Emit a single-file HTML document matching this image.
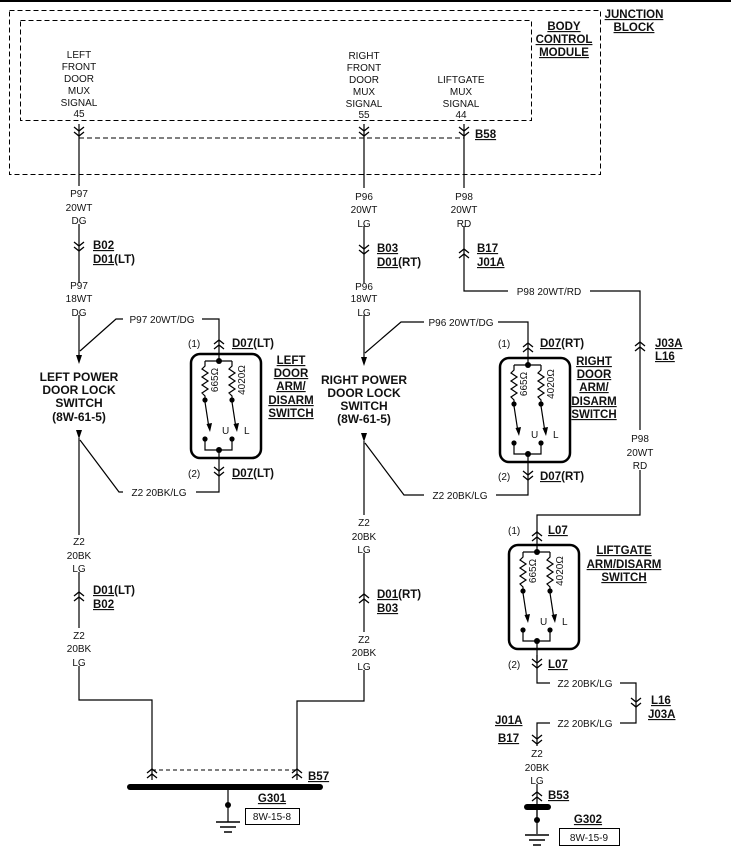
<!DOCTYPE html>
<html><head><meta charset="utf-8"><style>
html,body{margin:0;padding:0;background:#fff}
svg{display:block}
text{font-family:"Liberation Sans",sans-serif;font-size:10px;fill:#111}
.c{text-anchor:middle}
.b{font-weight:bold;font-size:11.5px}
.u{text-decoration:underline}
</style></head><body>
<svg width="731" height="859" viewBox="0 0 731 859" xmlns="http://www.w3.org/2000/svg">
<defs>
<g id="dn" fill="none" stroke="#000" stroke-width="1.3"><path d="M-5,-5 L0,-1 L5,-5 M-5,0 L0,4 L5,0"/></g>
<g id="up" fill="none" stroke="#000" stroke-width="1.3"><path d="M-5,5 L0,1 L5,5 M-5,0 L0,-4 L5,0"/></g>
<g id="sw">
<rect x="191" y="354" width="70" height="104" rx="9" fill="none" stroke="#000" stroke-width="2.5"/>
<g fill="none" stroke="#000" stroke-width="1.2">
<path d="M219,340 V361 M205,361 H232 M205,361 V366 l-3,3 l6,4 l-6,4 l6,4 l-6,4 l6,4 l-6,4 l3,3 V400 M232,361 V366 l-3,3 l6,4 l-6,4 l6,4 l-6,4 l6,4 l-6,4 l3,3 V400"/>
<path d="M205,402 L209,428 M232,402 L236,428"/>
<path d="M205,439 V450 H232 V439 M219,450 V470"/>
</g>
<path d="M206.5,424 L212,423 L210,432 Z M233.5,424 L239,423 L237,432 Z" fill="#000"/>
<g fill="#000"><circle cx="219" cy="361" r="3"/><circle cx="205" cy="400" r="2.6"/><circle cx="232" cy="400" r="2.6"/><circle cx="205" cy="439" r="2.6"/><circle cx="232" cy="439" r="2.6"/><circle cx="219" cy="450" r="3"/></g>
<text x="218" y="380" transform="rotate(-90 218 380)" class="c" style="font-size:10px">665Ω</text>
<text x="245" y="380" transform="rotate(-90 245 380)" class="c" style="font-size:10px">4020Ω</text>
<text x="222" y="434">U</text><text x="244" y="434">L</text>
</g>
</defs>
<rect x="0" y="0" width="731" height="2" fill="#000"/>
<rect x="9.5" y="10.5" width="591" height="164" fill="none" stroke="#000" stroke-dasharray="5,3"/>
<rect x="20.5" y="20.5" width="511" height="100" fill="none" stroke="#000" stroke-dasharray="5,3"/>
<line x1="79" y1="138" x2="464" y2="138" stroke="#000" stroke-dasharray="5,3"/>
<g class="b"><text x="634" y="18" class="c b u">JUNCTION</text><text x="634" y="31" class="c b u">BLOCK</text>
<text x="564" y="30" class="c b u">BODY</text><text x="564" y="43" class="c b u">CONTROL</text><text x="564" y="56" class="c b u">MODULE</text></g>
<g class="c">
<text x="79" y="58" class="c">LEFT</text><text x="79" y="70" class="c">FRONT</text><text x="79" y="82" class="c">DOOR</text><text x="79" y="94" class="c">MUX</text><text x="79" y="106" class="c">SIGNAL</text><text x="79" y="117" class="c">45</text>
<text x="364" y="59" class="c">RIGHT</text><text x="364" y="71" class="c">FRONT</text><text x="364" y="83" class="c">DOOR</text><text x="364" y="95" class="c">MUX</text><text x="364" y="107" class="c">SIGNAL</text><text x="364" y="118" class="c">55</text>
<text x="461" y="83" class="c">LIFTGATE</text><text x="461" y="95" class="c">MUX</text><text x="461" y="107" class="c">SIGNAL</text><text x="461" y="118" class="c">44</text>
</g>
<use href="#dn" x="79" y="132"/><use href="#dn" x="364" y="132"/><use href="#dn" x="464" y="132"/>
<text x="475" y="138" class="b u">B58</text>
<g stroke="#000" stroke-width="1.2" fill="none">
<path d="M79,124 V186 M79,224 V283 M79,315 V356 M80,351 L116,319 H123 M202,319 H219 V340"/>
<path d="M79,438 V535 M79,572 V628 M79,666 V700 H152 V780"/>
<path d="M80,440 L119,492 H123 M196,492 H219 V470"/>
<path d="M364,124 V188 M364,226 V283 M364,315 V358 M365,353 L401,322 H424 M498,322 H528 V343"/>
<path d="M364,441 V515 M364,553 V632 M364,670 V701 H297 V780"/>
<path d="M365,443 L404,495 H424 M496,495 H528 V474"/>
<path d="M464,124 V188 M464,226 V291 H508 M590,291 H640 V430 M640,470 V515 H537 V534"/>
<path d="M537,655 V683 H550 M620,683 H636 V723 H620 M550,723 H537 V746 M537,784 V820"/>
<path d="M228,787 V822 M537,808 V834"/>
</g>
<line x1="152" y1="770" x2="297" y2="770" stroke="#000" stroke-dasharray="4,3"/>
<g>
<text x="79" y="197" class="c">P97</text><text x="79" y="211" class="c">20WT</text><text x="79" y="224" class="c">DG</text>
<text x="79" y="289" class="c">P97</text><text x="79" y="302" class="c">18WT</text><text x="79" y="316" class="c">DG</text>
<text x="364" y="200" class="c">P96</text><text x="364" y="213" class="c">20WT</text><text x="364" y="227" class="c">LG</text>
<text x="364" y="290" class="c">P96</text><text x="364" y="302" class="c">18WT</text><text x="364" y="316" class="c">LG</text>
<text x="464" y="200" class="c">P98</text><text x="464" y="213" class="c">20WT</text><text x="464" y="227" class="c">RD</text>
<text x="549" y="295" class="c">P98 20WT/RD</text>
<text x="640" y="442" class="c">P98</text><text x="640" y="456" class="c">20WT</text><text x="640" y="469" class="c">RD</text>
<text x="162" y="323" class="c">P97 20WT/DG</text><text x="461" y="326" class="c">P96 20WT/DG</text>
<text x="159" y="496" class="c">Z2 20BK/LG</text><text x="460" y="499" class="c">Z2 20BK/LG</text>
<text x="79" y="545" class="c">Z2</text><text x="79" y="559" class="c">20BK</text><text x="79" y="572" class="c">LG</text>
<text x="79" y="639" class="c">Z2</text><text x="79" y="652" class="c">20BK</text><text x="79" y="666" class="c">LG</text>
<text x="364" y="526" class="c">Z2</text><text x="364" y="540" class="c">20BK</text><text x="364" y="553" class="c">LG</text>
<text x="364" y="643" class="c">Z2</text><text x="364" y="656" class="c">20BK</text><text x="364" y="670" class="c">LG</text>
<text x="585" y="687" class="c">Z2 20BK/LG</text><text x="585" y="727" class="c">Z2 20BK/LG</text>
<text x="537" y="757" class="c">Z2</text><text x="537" y="771" class="c">20BK</text><text x="537" y="784" class="c">LG</text>
</g>
<use href="#dn" x="79" y="247"/><text x="93" y="249" class="b u">B02</text><text x="93" y="263" class="b"><tspan class="u">D01</tspan>(LT)</text>
<use href="#dn" x="364" y="250"/><text x="377" y="252" class="b u">B03</text><text x="377" y="266" class="b"><tspan class="u">D01</tspan>(RT)</text>
<use href="#up" x="464" y="253"/><text x="477" y="252" class="b u">B17</text><text x="477" y="266" class="b u">J01A</text>
<use href="#up" x="219" y="344"/><text x="188" y="347">(1)</text><text x="232" y="347" class="b"><tspan class="u">D07</tspan>(LT)</text>
<use href="#dn" x="219" y="472"/><text x="188" y="477">(2)</text><text x="232" y="477" class="b"><tspan class="u">D07</tspan>(LT)</text>
<use href="#up" x="528" y="347"/><text x="498" y="347">(1)</text><text x="540" y="347" class="b"><tspan class="u">D07</tspan>(RT)</text>
<use href="#dn" x="528" y="476"/><text x="498" y="480">(2)</text><text x="540" y="480" class="b"><tspan class="u">D07</tspan>(RT)</text>
<use href="#up" x="640" y="346"/><text x="655" y="347" class="b u">J03A</text><text x="655" y="360" class="b u">L16</text>
<use href="#up" x="537" y="536"/><text x="508" y="534">(1)</text><text x="548" y="534" class="b u">L07</text>
<use href="#dn" x="537" y="664"/><text x="508" y="668">(2)</text><text x="548" y="668" class="b u">L07</text>
<use href="#dn" x="636" y="703"/><text x="651" y="704" class="b u">L16</text><text x="648" y="718" class="b u">J03A</text>
<use href="#dn" x="537" y="740"/><text x="495" y="724" class="b u">J01A</text><text x="498" y="742" class="b u">B17</text>
<use href="#up" x="79" y="596"/><text x="93" y="594" class="b"><tspan class="u">D01</tspan>(LT)</text><text x="93" y="608" class="b u">B02</text>
<use href="#up" x="364" y="598"/><text x="377" y="598" class="b"><tspan class="u">D01</tspan>(RT)</text><text x="377" y="612" class="b u">B03</text>
<use href="#up" x="152" y="773"/><use href="#up" x="297" y="773"/><text x="308" y="780" class="b u">B57</text>
<use href="#up" x="537" y="796"/><text x="548" y="799" class="b u">B53</text>
<use href="#sw"/>
<use href="#sw" x="309" y="4"/>
<use href="#sw" x="318" y="191"/>
<g class="b" style="font-size:12px">
<text x="79" y="381" class="c b" style="font-size:12px">LEFT POWER</text><text x="79" y="394" class="c b" style="font-size:12px">DOOR LOCK</text><text x="79" y="407" class="c b" style="font-size:12px">SWITCH</text><text x="79" y="421" class="c b" style="font-size:12px">(8W-61-5)</text>
<text x="364" y="384" class="c b" style="font-size:12px">RIGHT POWER</text><text x="364" y="397" class="c b" style="font-size:12px">DOOR LOCK</text><text x="364" y="410" class="c b" style="font-size:12px">SWITCH</text><text x="364" y="423" class="c b" style="font-size:12px">(8W-61-5)</text>
<text x="291" y="364" class="c b u">LEFT</text><text x="291" y="377" class="c b u">DOOR</text><text x="291" y="390" class="c b u">ARM/</text><text x="291" y="404" class="c b u">DISARM</text><text x="291" y="417" class="c b u">SWITCH</text>
<text x="594" y="365" class="c b u">RIGHT</text><text x="594" y="378" class="c b u">DOOR</text><text x="594" y="391" class="c b u">ARM/</text><text x="594" y="405" class="c b u">DISARM</text><text x="594" y="418" class="c b u">SWITCH</text>
<text x="624" y="554" class="c b u">LIFTGATE</text><text x="624" y="568" class="c b u">ARM/DISARM</text><text x="624" y="581" class="c b u">SWITCH</text>
</g>
<path d="M76,355 L82,355 L79,364 Z M76,430 L82,430 L79,439 Z M361,357 L367,357 L364,366 Z M361,433 L367,433 L364,442 Z" fill="#000"/>
<line x1="130" y1="787" x2="320" y2="787" stroke="#000" stroke-width="6" stroke-linecap="round"/>
<circle cx="228" cy="805" r="3" fill="#000"/>
<path d="M216,822 H240 M220,827 H236 M224,832 H232" stroke="#000" stroke-width="1.5"/>
<text x="272" y="802" class="c b u">G301</text>
<rect x="245.5" y="808.5" width="54" height="16" fill="none" stroke="#000"/><text x="272" y="820" class="c">8W-15-8</text>
<line x1="527" y1="807" x2="548" y2="807" stroke="#000" stroke-width="6" stroke-linecap="round"/>
<circle cx="537" cy="820" r="3" fill="#000"/>
<path d="M525,835 H549 M529,840 H545 M533,845 H541" stroke="#000" stroke-width="1.5"/>
<text x="588" y="823" class="c b u">G302</text>
<rect x="559.5" y="828.5" width="60" height="17" fill="none" stroke="#000"/><text x="589" y="841" class="c">8W-15-9</text>
</svg>
</body></html>
